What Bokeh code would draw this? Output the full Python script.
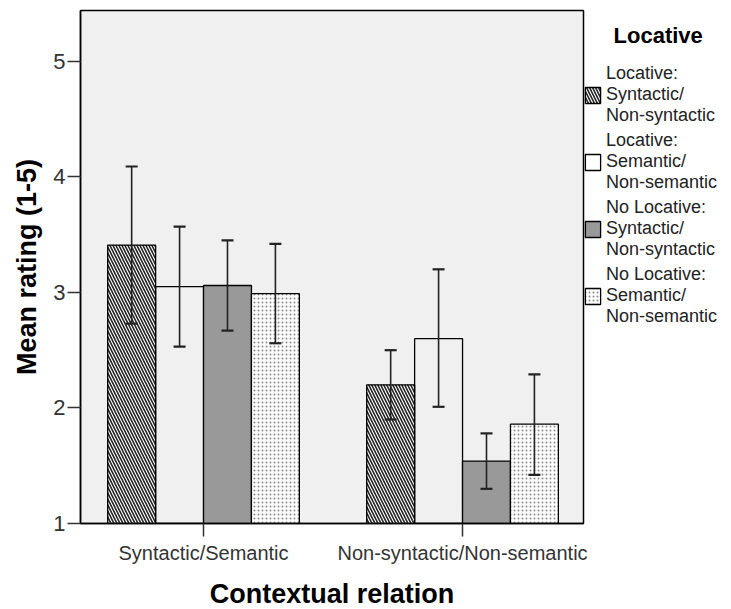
from bokeh.plotting import figure
from bokeh.models import (ColumnDataSource, Whisker, TeeHead, Legend, LegendItem,
                          FixedTicker, Range1d)
from bokeh.embed import file_html
from bokeh.resources import INLINE
import numpy as np

# ---- data ----
categories = ["Syntactic/Semantic", "Non-syntactic/Non-semantic"]
legend_title = "Locative"
series_labels = [
    "Locative:\nSyntactic/\nNon-syntactic",
    "Locative:\nSemantic/\nNon-semantic",
    "No Locative:\nSyntactic/\nNon-syntactic",
    "No Locative:\nSemantic/\nNon-semantic",
]
loc_syn_mean = [3.41, 2.20]
loc_syn_low = [2.73, 1.90]
loc_syn_high = [4.09, 2.50]

loc_sem_mean = [3.05, 2.60]
loc_sem_low = [2.53, 2.01]
loc_sem_high = [3.57, 3.20]

noloc_syn_mean = [3.06, 1.54]
noloc_syn_low = [2.67, 1.30]
noloc_syn_high = [3.45, 1.78]

noloc_sem_mean = [2.99, 1.86]
noloc_sem_low = [2.56, 1.42]
noloc_sem_high = [3.42, 2.29]

y_ticks = [1, 2, 3, 4, 5]

FONT = "Liberation Sans"
BAR_W = 0.185
X0, X1 = 0.525, 2.467
Y0, Y1 = 1, 5.44

p = figure(frame_width=503, frame_height=513,
           min_border_left=80, min_border_top=10, min_border_right=148, min_border_bottom=86,
           x_range=Range1d(X0, X1), y_range=Range1d(Y0, Y1),
           output_backend="svg", toolbar_location=None)
p.background_fill_color = "#f0f0f0"
p.border_fill_color = "white"
p.outline_line_color = "black"
p.outline_line_width = 1.5
p.xgrid.visible = False
p.ygrid.visible = False

centers = np.arange(1, len(categories) + 1)
offsets = [-1.5 * BAR_W, -0.5 * BAR_W, 0.5 * BAR_W, 1.5 * BAR_W]
means = [loc_syn_mean, loc_sem_mean, noloc_syn_mean, noloc_sem_mean]
lows = [loc_syn_low, loc_sem_low, noloc_syn_low, noloc_sem_low]
highs = [loc_syn_high, loc_sem_high, noloc_syn_high, noloc_sem_high]

styles = [
    dict(fill_color="white", fill_alpha=1, hatch_pattern="left_diagonal_line",
         hatch_color="#222222", hatch_scale=6, hatch_weight=1.6),
    dict(fill_color="white", fill_alpha=0),
    dict(fill_color="#999999", fill_alpha=1),
    dict(fill_color="white", fill_alpha=1, hatch_pattern="dot",
         hatch_color="#8a8a8a", hatch_scale=4, hatch_weight=1.6),
]

items = []
renderers = []
for i in range(4):
    src = ColumnDataSource(dict(x=centers + offsets[i], top=means[i],
                                lower=lows[i], upper=highs[i]))
    r = p.vbar(x="x", top="top", bottom=Y0, width=BAR_W, source=src,
               line_color="black", line_width=1.3, **styles[i])
    renderers.append((r, src))
    items.append(LegendItem(label=series_labels[i], renderers=[r]))

for r, src in renderers:
    w = Whisker(base="x", lower="lower", upper="upper", source=src, level="overlay",
                line_color="#222222", line_width=1.6,
                upper_head=TeeHead(size=12, line_color="#222222", line_width=2.2),
                lower_head=TeeHead(size=12, line_color="#222222", line_width=2.2))
    p.add_layout(w)

# axes
p.xaxis.ticker = FixedTicker(ticks=list(centers))
p.xaxis.major_label_overrides = {int(c): categories[k] for k, c in enumerate(centers)}
p.yaxis.ticker = FixedTicker(ticks=y_ticks)
for ax in (p.xaxis[0], p.yaxis[0]):
    ax.minor_tick_line_color = None
    ax.major_tick_in = 0
    ax.major_tick_out = 13
    ax.major_tick_line_color = "#333333"
    ax.major_tick_line_width = 1.5
    ax.axis_line_color = "black"
    ax.axis_line_width = 1.5
    ax.major_label_text_font = FONT
    ax.major_label_text_color = "#333333"
    ax.axis_label_text_font = FONT
    ax.axis_label_text_font_style = "bold"
    ax.axis_label_text_color = "black"
    ax.axis_label_text_font_size = "27px"

p.yaxis.major_label_text_font_size = "22px"
p.yaxis.major_label_standoff = 2
p.yaxis.axis_label = "Mean rating (1-5)"
p.yaxis.axis_label_standoff = 8
p.xaxis.major_label_text_font_size = "20px"
p.xaxis.major_label_standoff = 5
p.xaxis.axis_label = "Contextual relation"
p.xaxis.axis_label_standoff = 12

# non-breaking spaces indent the title so it sits over the labels, as in the reference
legend = Legend(items=items, title="\u00a0" * 5 + legend_title, location=(0, 196),
                margin=0, padding=0, spacing=4,
                glyph_width=19, glyph_height=20, label_standoff=4,
                label_text_font=FONT, label_text_font_size="18px",
                label_text_color="#222222",
                title_text_font=FONT, title_text_font_style="bold",
                title_text_font_size="22px", title_text_color="black",
                title_standoff=14,
                border_line_color=None, background_fill_alpha=0)
p.add_layout(legend, "right")

open("out.html", "w").write(file_html(p, INLINE))
